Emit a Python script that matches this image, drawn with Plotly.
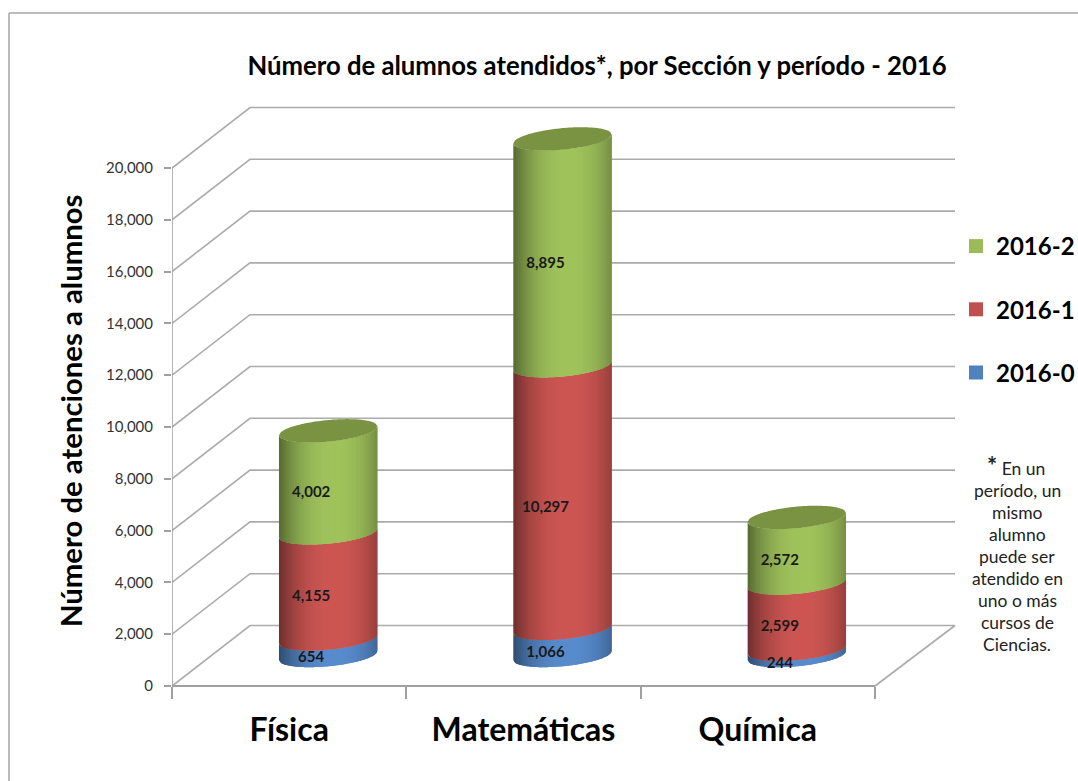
import plotly.graph_objects as go

categories = ["Física", "Matemáticas", "Química"]
periods = ["2016-0", "2016-1", "2016-2"]
v_2016_0 = [654, 1066, 244]
v_2016_1 = [4155, 10297, 2599]
v_2016_2 = [4002, 8895, 2572]
series = [v_2016_0, v_2016_1, v_2016_2]
base_colors = [(88, 140, 205), (205, 86, 83), (160, 195, 92)]
legend_colors = ["#4F81BD", "#C0504D", "#9BBB59"]
top_color = "#7A9342"
y_ticks = list(range(0, 20001, 2000))
footnote = ["período, un", "mismo", "alumno", "puede ser", "atendido en", "uno o más", "cursos de", "Ciencias."]

W, H = 1078, 781
FONT = "Lato"
PX_X = 234.33        # px per category
PX_Y = 0.0259        # px per unit
X0_PX, Y0_PX = 172, 686
GRID = "#ABABAB"

def dx(px): return px / PX_X
def dy(px): return px / PX_Y

depth_x, depth_y = dx(78), dy(60.5)
x_left = -0.5
x_back_right = x_left + dx(955 - X0_PX)
x_front_right = x_left + dx(875 - X0_PX)

fig = go.Figure()

def add_line(xs, ys, w=1.6, c=GRID):
    fig.add_trace(go.Scatter(x=xs, y=ys, mode="lines", line=dict(color=c, width=w),
                             showlegend=False, hoverinfo="skip"))

# walls
for v in y_ticks[1:]:
    add_line([x_left, x_left + depth_x, x_back_right], [v, v + depth_y, v + depth_y])
add_line([x_left, x_left + depth_x, x_back_right, x_front_right],
         [0, depth_y, depth_y, 0])
add_line([x_left, x_front_right], [0, 0], w=1.8, c="#A0A0A0")
add_line([x_left, x_left], [0, y_ticks[-1]], w=1.6, c="#A0A0A0")

# cylinders
A_PX, TILT_PX, RY_PX = 49.2, 4.5, 10.8
BASE_OFF = dy(Y0_PX - 655.5)
VALUE_SCALE = 0.0255 / PX_Y
SHIFT = dx(39)
N = 40

def shade(rgb, u):
    d = abs((u - 0.12) / 1.12)
    f = 1 - 0.46 * d ** 2.3
    return "rgb(%d,%d,%d)" % tuple(int(c * f) for c in rgb)

def center_y(v):
    return BASE_OFF + v * VALUE_SCALE

def front_y(v, u):
    off = -TILT_PX * u + RY_PX * max(0, 1 - u * u) ** 0.5
    return center_y(v) - dy(off)

def cx(i):
    return i + SHIFT

for i, cat in enumerate(categories):
    start = 0
    for s, vals in enumerate(series):
        end = start + vals[i]
        for k in range(N):
            u1 = -1 + 2 * k / N
            u2 = min(1, -1 + 2 * (k + 2) / N)
            us = [u1 + (u2 - u1) * t / 4 for t in range(5)]
            xs = [cx(i) + dx(A_PX) * u for u in us]
            lo = [front_y(start, u) for u in us]
            hi = [front_y(end, u) for u in us]
            col = shade(base_colors[s], u1 + 1 / N)
            fig.add_trace(go.Scatter(
                x=xs + xs[::-1], y=lo + hi[::-1], mode="none", fill="toself",
                fillcolor=col, showlegend=False, hoverinfo="skip"))
        start = end
    # top cap
    M = 60
    us = [-1 + 2 * k / M for k in range(M + 1)]
    xs = [cx(i) + dx(A_PX) * u for u in us]
    y_front = [front_y(start, u) for u in us]
    y_back = [center_y(start) - dy(-TILT_PX * u - RY_PX * (1 - u * u) ** 0.5) for u in us]
    fig.add_trace(go.Scatter(x=xs + xs[::-1], y=y_front + y_back[::-1], mode="none", fill="toself",
                             fillcolor=top_color, showlegend=False, hoverinfo="skip"))

# data labels
lx, ly, lt = [], [], []
for i in range(3):
    start = 0
    for vals in series:
        mid = start + vals[i] / 2
        lx.append(cx(i) - dx(17))
        ly.append(center_y(mid) - dy(11.5))
        lt.append(f"{vals[i]:,}")
        start += vals[i]
fig.add_trace(go.Scatter(x=lx, y=ly, text=lt, mode="text", textposition="middle center",
                         textfont=dict(family=FONT, size=15, color="#1a1a1a", weight="bold"),
                         showlegend=False, hoverinfo="skip"))

# legend
for s in [2, 1, 0]:
    fig.add_trace(go.Scatter(x=[None], y=[None], mode="markers", name=periods[s],
                             legendgroup=periods[s],
                             marker=dict(symbol="square", size=14, color=legend_colors[s])))

anns = [dict(text="Número de atenciones a alumnos", x=70 / W, y=1 - 411 / H, xref="paper", yref="paper",
             xanchor="center", yanchor="middle",
             textangle=-90, showarrow=False, font=dict(family=FONT, size=29.3, color="#000", weight="bold"))]
anns.append(dict(text='<span style="font-size:24px"><b>*</b></span> En un', x=1016 / W, y=1 - 465 / H,
                 xref="paper", yref="paper", xanchor="center", yanchor="middle", showarrow=False,
                 font=dict(family=FONT, size=17.5, color="#222")))
for j, line in enumerate(footnote):
    anns.append(dict(text=line, x=1017 / W, y=1 - (490 + j * 22) / H, xref="paper", yref="paper",
                     xanchor="center", yanchor="middle",
                     showarrow=False, font=dict(family=FONT, size=17.5, color="#222")))

frame = dict(color="#A6A6A6", width=1.5)
shapes = [
    dict(type="line", xref="paper", yref="paper", x0=9 / W, x1=9 / W, y0=0, y1=1 - 13 / H, line=frame),
    dict(type="line", xref="paper", yref="paper", x0=9 / W, x1=1, y0=1 - 13 / H, y1=1 - 13 / H, line=frame),
]

fig.update_layout(
    width=W, height=H, margin=dict(l=0, r=0, t=0, b=0, autoexpand=False),
    paper_bgcolor="white", plot_bgcolor="white",
    title=dict(text="<b>Número de alumnos atendidos*, por Sección y período - 2016</b>",
               x=597 / W, xanchor="center", y=1 - 66 / H, yanchor="middle",
               font=dict(family=FONT, size=25.7, color="#000")),
    xaxis=dict(domain=[X0_PX / W, 1], range=[x_left, x_left + dx(W - X0_PX)],
               anchor="free", position=(H - Y0_PX) / H,
               tickvals=[0, 1, 2], ticktext=categories, ticks="", showgrid=False, zeroline=False,
               ticklabelstandoff=22, tickfont=dict(family=FONT, size=32, color="#000", weight="bold"),
               minor=dict(tickvals=[-0.5, 0.5, 1.5, 2.5], ticks="outside", ticklen=12, tickwidth=1.6,
                          tickcolor="#A0A0A0", showgrid=False)),
    yaxis=dict(domain=[0, 1], range=[-(H - Y0_PX) / PX_Y, Y0_PX / PX_Y], tickvals=y_ticks,
               tickformat=",", ticks="outside", ticklen=7, tickwidth=1.6, tickcolor="#A0A0A0",
               ticklabelstandoff=8, showgrid=False, zeroline=False,
               tickfont=dict(family=FONT, size=15, color="#333")),
    legend=dict(x=956 / W, y=1 - 224 / H, xanchor="left", yanchor="top", tracegroupgap=29,
                font=dict(family=FONT, size=24, color="#000", weight="bold"), bgcolor="rgba(0,0,0,0)",
                itemwidth=30),
    annotations=anns, shapes=shapes,
)
fig.write_html("out.html", config={"displayModeBar": False},
               post_script="document.body.style.margin='0';document.body.style.overflow='hidden';")
